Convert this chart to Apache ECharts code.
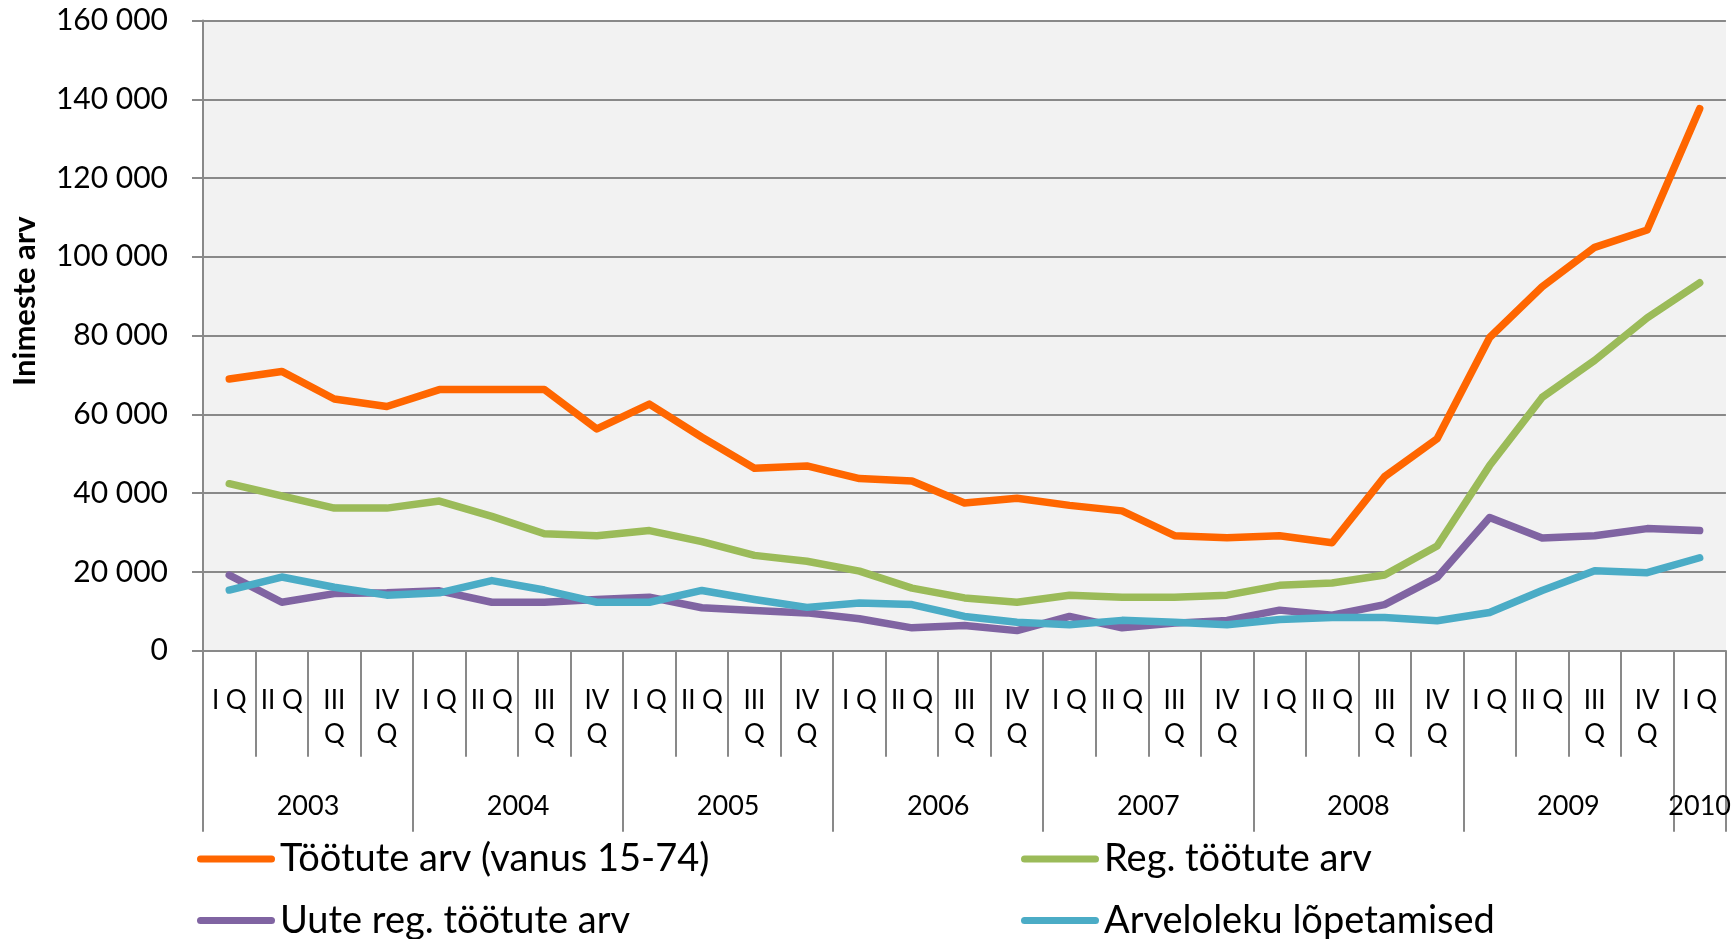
<!DOCTYPE html>
<html>
<head>
<meta charset="utf-8">
<title>Töötute arv</title>
<script src="https://cdn.jsdelivr.net/npm/echarts@6/dist/echarts.min.js"></script>
<style>
  html, body { margin: 0; padding: 0; background: #fff; }
  #chart { width: 1734px; height: 939px; }
</style>
</head>
<body>
<div id="chart"></div>
<script>
// kvartalid 2003 I Q ... 2010 I Q
const quarters = [
  'I Q', 'II Q', 'III Q', 'IV Q',
  'I Q', 'II Q', 'III Q', 'IV Q',
  'I Q', 'II Q', 'III Q', 'IV Q',
  'I Q', 'II Q', 'III Q', 'IV Q',
  'I Q', 'II Q', 'III Q', 'IV Q',
  'I Q', 'II Q', 'III Q', 'IV Q',
  'I Q', 'II Q', 'III Q', 'IV Q',
  'I Q'
];
const years = ['2003', '2004', '2005', '2006', '2007', '2008', '2009', '2010'];
const quartersPerYear = [4, 4, 4, 4, 4, 4, 4, 1];

const seriesNames = [
  'Töötute arv (vanus 15-74)',
  'Reg. töötute arv',
  'Uute reg. töötute arv',
  'Arveloleku lõpetamised'
];

const unemployed = [
  69000, 70900, 63900, 62000, 66300, 66300, 66300, 56300,
  62600, 54200, 46300, 46900, 43700, 43100, 37500, 38700,
  36900, 35500, 29200, 28700, 29200, 27400, 44200, 53800,
  79500, 92400, 102400, 106800, 137600
];
const registered = [
  42400, 39300, 36200, 36200, 38000, 34100, 29700, 29200,
  30500, 27700, 24200, 22700, 20200, 15900, 13400, 12300,
  14100, 13600, 13600, 14100, 16600, 17200, 19200, 26600,
  47000, 64300, 73700, 84500, 93400
];
const newRegistered = [
  19200, 12300, 14500, 14700, 15200, 12300, 12300, 13000,
  13600, 10900, 10200, 9600, 8100, 5800, 6400, 5100,
  8700, 5800, 7000, 7700, 10300, 9000, 11700, 18600,
  33800, 28600, 29200, 31000, 30500
];
const deregistered = [
  15400, 18700, 16100, 14100, 14700, 17800, 15400, 12300,
  12300, 15300, 13000, 11000, 12100, 11700, 8700, 7200,
  6600, 7700, 7200, 6600, 7900, 8400, 8400, 7600,
  9700, 15300, 20300, 19800, 23600
];

const colors = ['#ff6600', '#9bbb59', '#8064a2', '#4bacc6'];
const axisGray = '#898989';
const font = 'Lato';

// aastate piirid ja keskkohad kvartalite skaalal
const yearBounds = [0];
const yearMids = [];
quartersPerYear.forEach((n, i) => {
  yearMids.push(yearBounds[i] + n / 2);
  yearBounds.push(yearBounds[i] + n);
});

const thousands = (v) => String(v).replace(/\B(?=(\d{3})+(?!\d))/g, ' ');
const legendIcon = 'path://M3.5,0 H74.5 A3.5,3.5 0 0 1 74.5,7 H3.5 A3.5,3.5 0 0 1 3.5,0 Z';

const myChart = echarts.init(document.getElementById('chart'));

const makeLine = (name, data, color) => ({
  name: name,
  type: 'line',
  data: data,
  xAxisIndex: 0,
  symbol: 'none',
  smooth: false,
  animation: false,
  itemStyle: { color: color },
  lineStyle: { color: color, width: 7.5, cap: 'round', join: 'round' }
});

const legendBase = {
  orient: 'vertical',
  top: 839,
  height: 140,
  padding: 0,
  itemWidth: 78,
  itemHeight: 7,
  itemGap: 21.4,
  icon: legendIcon,
  textStyle: { fontFamily: font, fontSize: 38, lineHeight: 40, color: '#000' }
};

myChart.setOption({
  animation: false,
  grid: {
    left: 203,
    right: 7,
    top: 20.5,
    bottom: 288.3,
    show: true,
    backgroundColor: '#f2f2f2',
    borderWidth: 0
  },
  legend: [
    Object.assign({}, legendBase, { left: 197, data: [seriesNames[0], seriesNames[2]] }),
    Object.assign({}, legendBase, { left: 1021, data: [seriesNames[1], seriesNames[3]] })
  ],
  xAxis: [
    {
      type: 'category',
      position: 'bottom',
      data: quarters,
      boundaryGap: true,
      axisLine: { onZero: false, lineStyle: { color: axisGray, width: 2 } },
      axisTick: { show: true, interval: 0, length: 106, lineStyle: { color: axisGray, width: 2 } },
      axisLabel: {
        interval: 0,
        margin: 33,
        fontFamily: font,
        fontSize: 26,
        lineHeight: 34,
        color: '#000',
        formatter: (v) => /^(III|IV) /.test(v) ? v.replace(' ', '\n') : v
      },
      splitLine: { show: false }
    },
    {
      type: 'value',
      position: 'bottom',
      min: 0,
      max: yearBounds[yearBounds.length - 1],
      axisLine: { show: false, onZero: false },
      axisTick: {
        show: true,
        customValues: yearBounds,
        length: 181,
        lineStyle: { color: axisGray, width: 2 }
      },
      axisLabel: {
        customValues: yearMids,
        margin: 140,
        fontFamily: font,
        fontSize: 27,
        lineHeight: 32,
        color: '#000',
        formatter: (v) => {
          const i = yearMids.indexOf(v);
          return i >= 0 ? years[i] : '';
        }
      },
      splitLine: { show: false }
    }
  ],
  yAxis: {
    type: 'value',
    min: 0,
    max: 160000,
    interval: 20000,
    name: 'Inimeste arv',
    nameLocation: 'middle',
    nameRotate: 90,
    nameGap: 163,
    nameTextStyle: {
      fontFamily: font,
      fontSize: 31,
      fontWeight: 'bold',
      lineHeight: 31,
      color: '#000',
      padding: [0, 0, 0, 69]
    },
    axisLine: { show: true, onZero: false, lineStyle: { color: axisGray, width: 2 } },
    axisTick: { show: true, length: 11, lineStyle: { color: axisGray, width: 2 } },
    axisLabel: {
      margin: 35,
      fontFamily: font,
      fontSize: 30,
      color: '#000',
      formatter: thousands
    },
    splitLine: { show: true, lineStyle: { color: axisGray, width: 2 } }
  },
  series: [
    makeLine(seriesNames[0], unemployed, colors[0]),
    makeLine(seriesNames[1], registered, colors[1]),
    makeLine(seriesNames[2], newRegistered, colors[2]),
    makeLine(seriesNames[3], deregistered, colors[3])
  ]
});
</script>
</body>
</html>
